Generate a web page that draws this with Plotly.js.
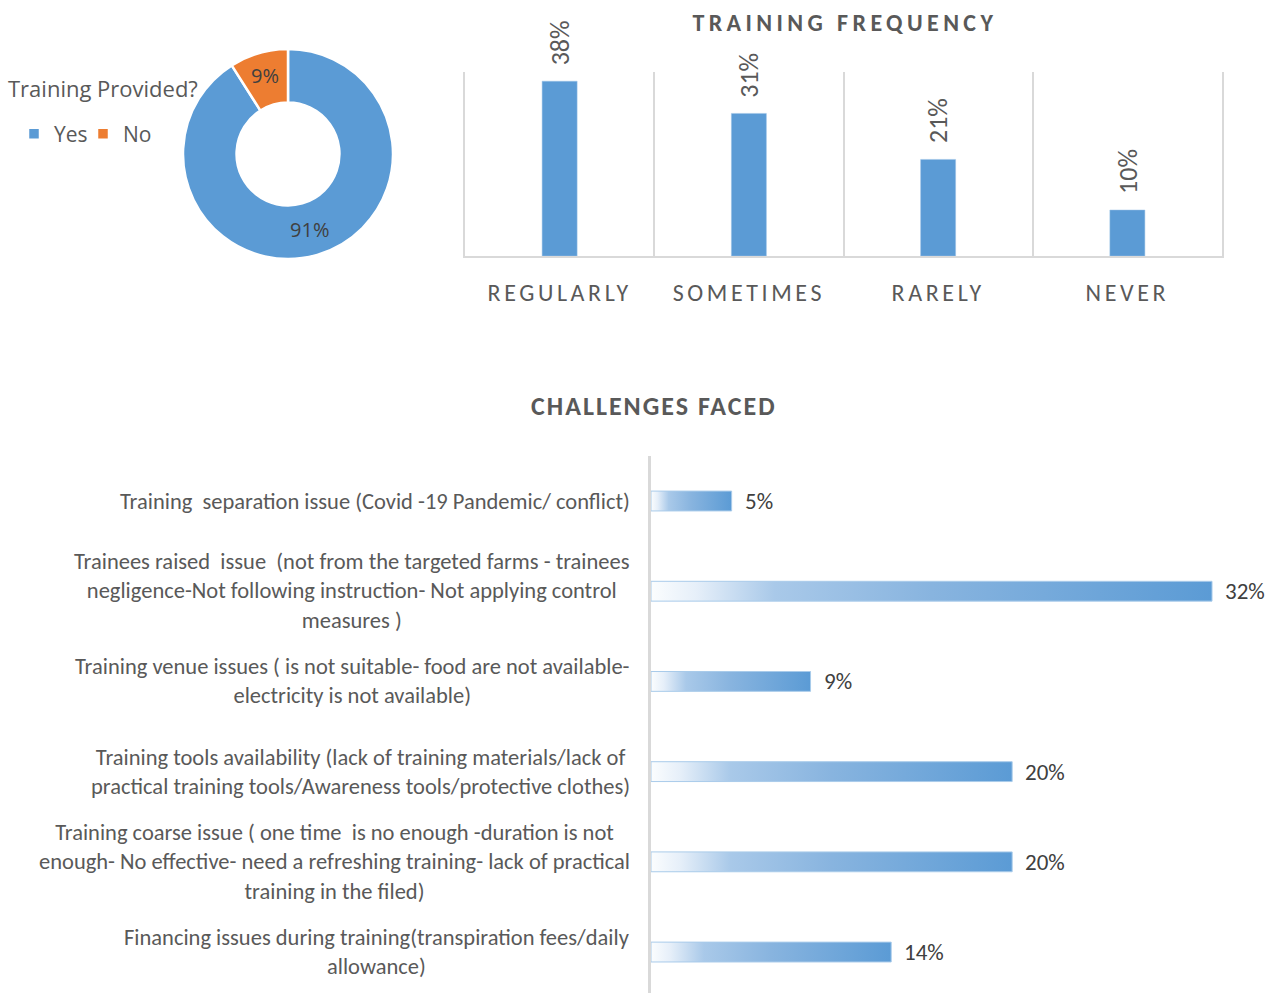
<!DOCTYPE html>
<html>
<head>
<meta charset="utf-8">
<script src="https://cdn.plot.ly/plotly-3.0.1.min.js"></script>
<style>
  html, body { margin: 0; padding: 0; background: #fff; }
  #chart { width: 1269px; height: 993px; }
  .xtick text { letter-spacing: 3.6px; }
</style>
</head>
<body>
<div id="chart"></div>
<script>
// ---- Data ----
const pieLabels = ['Yes', 'No'];
const pieValues = [91, 9];

const freqCategories = ['REGULARLY', 'SOMETIMES', 'RARELY', 'NEVER'];
const freqValues = [38, 31, 21, 10];

const challengeCategories = [
  'Training  separation issue (Covid -19 Pandemic/ conflict)',
  'Trainees raised  issue  (not from the targeted farms - trainees<br>negligence-Not following instruction- Not applying control<br>measures )',
  'Training venue issues ( is not suitable- food are not available-<br>electricity is not available)',
  'Training tools availability (lack of training materials/lack of<br>practical training tools/Awareness tools/protective clothes)',
  'Training coarse issue ( one time  is no enough -duration is not<br>enough- No effective- need a refreshing training- lack of practical<br>training in the filed)',
  'Financing issues during training(transpiration fees/daily<br>allowance)'
];
const challengeValues = [4.6, 32, 9.1, 20.6, 20.6, 13.7];
const challengeLabels = ['5%', '32%', '9%', '20%', '20%', '14%'];

// ---- Style ----
const FONT = 'Carlito, Calibri, Lato, sans-serif';
const FONT_UI = '"Open Sans", "Segoe UI", sans-serif';
const BLUE = '#5B9BD5';
const ORANGE = '#ED7D31';
const GREY_TXT = '#595959';
const DARK_TXT = '#404040';
const GRID = '#d9d9d9';

const traces = [
  {
    type: 'pie',
    labels: pieLabels,
    values: pieValues,
    hole: 0.49,
    sort: false,
    direction: 'clockwise',
    rotation: 0,
    marker: { colors: [BLUE, ORANGE], line: { color: '#ffffff', width: 2.5 } },
    textinfo: 'percent',
    textposition: 'inside',
    insidetextorientation: 'horizontal',
    textfont: { family: FONT_UI, size: 20, color: DARK_TXT },
    domain: { x: [183 / 1269, 393 / 1269], y: [1 - 259 / 993, 1 - 49 / 993] },
    showlegend: true,
    hoverinfo: 'label+percent'
  },
  {
    type: 'bar',
    x: freqCategories,
    y: freqValues,
    xaxis: 'x',
    yaxis: 'y',
    width: 0.185,
    marker: { color: BLUE, line: { color: '#9DC3E6', width: 0.5 } },
    showlegend: false,
    hoverinfo: 'x+y'
  },
  {
    type: 'bar',
    orientation: 'h',
    x: challengeValues,
    y: challengeCategories,
    xaxis: 'x2',
    yaxis: 'y2',
    width: 0.22,
    marker: { color: BLUE, line: { color: '#A9CBEA', width: 1 } },
    showlegend: false,
    hoverinfo: 'x'
  }
];

const annotations = [];
// Pie legend title
annotations.push({
  xref: 'paper', yref: 'paper',
  x: 6 / 1269, y: 1 - 88 / 993,
  xanchor: 'left', yanchor: 'middle',
  text: 'Training Provided?',
  showarrow: false,
  font: { family: FONT_UI, size: 22, color: GREY_TXT }
});
// Frequency title
annotations.push({
  xref: 'paper', yref: 'paper',
  x: 845 / 1269, y: 1 - 23 / 993,
  xanchor: 'center', yanchor: 'middle',
  text: '<b>TRAINING FREQUENCY</b>',
  showarrow: false,
  font: { family: FONT, size: 24, color: GREY_TXT }
});
// Challenges title
annotations.push({
  xref: 'paper', yref: 'paper',
  x: 654 / 1269, y: 1 - 406 / 993,
  xanchor: 'center', yanchor: 'middle',
  text: '<b>CHALLENGES FACED</b>',
  showarrow: false,
  font: { family: FONT, size: 26, color: GREY_TXT }
});
// Frequency data labels
freqCategories.forEach((c, i) => {
  annotations.push({
    xref: 'x', yref: 'y', x: c, y: freqValues[i],
    text: freqValues[i] + '%',
    textangle: -90,
    xanchor: 'center', yanchor: 'bottom', yshift: 14,
    showarrow: false,
    font: { family: FONT, size: 26, color: GREY_TXT }
  });
});
// Challenge category labels and data labels
challengeCategories.forEach((c, i) => {
  annotations.push({
    xref: 'x2 domain', yref: 'y2', x: 0, y: c,
    text: c,
    xanchor: 'right', yanchor: 'middle', xshift: -19,
    align: 'center',
    showarrow: false,
    font: { family: FONT, size: 22.5, color: GREY_TXT }
  });
  annotations.push({
    xref: 'x2', yref: 'y2', x: challengeValues[i], y: c,
    text: challengeLabels[i],
    xanchor: 'left', yanchor: 'middle', xshift: 11,
    showarrow: false,
    font: { family: FONT, size: 23, color: DARK_TXT }
  });
});

const layout = {
  width: 1269,
  height: 993,
  margin: { l: 0, r: 0, t: 0, b: 0 },
  paper_bgcolor: '#ffffff',
  plot_bgcolor: 'rgba(0,0,0,0)',
  font: { family: FONT, color: GREY_TXT },
  showlegend: true,
  legend: {
    orientation: 'h',
    x: 14 / 1269, y: 1 - 134 / 993,
    xanchor: 'left', yanchor: 'middle',
    font: { family: FONT_UI, size: 21, color: GREY_TXT },
    itemwidth: 30,
    entrywidth: 24,
    entrywidthmode: 'pixels',
    traceorder: 'normal',
    bgcolor: 'rgba(0,0,0,0)'
  },
  xaxis: {
    domain: [465 / 1269, 1222 / 1269],
    anchor: 'y',
    type: 'category',
    categoryorder: 'array',
    categoryarray: freqCategories,
    tickson: 'boundaries',
    showgrid: true,
    gridcolor: GRID,
    gridwidth: 2,
    showline: true,
    linecolor: GRID,
    linewidth: 2,
    ticks: '',
    ticklabelstandoff: 14,
    tickfont: { family: FONT, size: 24, color: GREY_TXT },
    fixedrange: true
  },
  yaxis: {
    domain: [1 - 256 / 993, 1 - 72 / 993],
    anchor: 'x',
    range: [0, 40],
    showgrid: false,
    zeroline: false,
    showticklabels: false,
    showline: true,
    mirror: true,
    linecolor: GRID,
    linewidth: 2,
    ticks: '',
    fixedrange: true
  },
  xaxis2: {
    domain: [651 / 1269, 1],
    anchor: 'y2',
    range: [0, 35.25],
    showgrid: false,
    zeroline: false,
    showticklabels: false,
    showline: false,
    ticks: '',
    fixedrange: true
  },
  yaxis2: {
    domain: [0, 1 - 456 / 993],
    anchor: 'x2',
    type: 'category',
    categoryorder: 'array',
    categoryarray: challengeCategories,
    range: [5.454, -0.499],
    showgrid: false,
    zeroline: false,
    showticklabels: false,
    showline: true,
    linecolor: GRID,
    linewidth: 3,
    ticks: '',
    fixedrange: true
  },
  bargap: 0,
  annotations: annotations
};

Plotly.newPlot('chart', traces, layout, { displayModeBar: false, staticPlot: true }).then(function (gd) {
  // gradient fill for the challenge bars
  const svgNS = 'http://www.w3.org/2000/svg';
  const defs = gd.querySelector('svg.main-svg defs');
  const grad = document.createElementNS(svgNS, 'linearGradient');
  grad.setAttribute('id', 'challengeGrad');
  grad.setAttribute('x1', '0'); grad.setAttribute('y1', '0');
  grad.setAttribute('x2', '1'); grad.setAttribute('y2', '0');
  [['0', '#fbfdfe'], ['0.08', '#e6eff9'], ['0.22', '#a9c9e9'], ['0.5', '#88b4df'], ['1', '#5b9bd5']].forEach(function (s) {
    const st = document.createElementNS(svgNS, 'stop');
    st.setAttribute('offset', s[0]);
    st.setAttribute('stop-color', s[1]);
    grad.appendChild(st);
  });
  defs.appendChild(grad);
  let paths = gd.querySelectorAll('g.subplot.x2y2 g.trace.bars path');
  if (!paths.length) {
    const tr = gd.querySelectorAll('g.trace.bars');
    if (tr.length > 1) paths = tr[1].querySelectorAll('path');
  }
  paths.forEach(function (p) { p.style.fill = 'url(#challengeGrad)'; });

  // letter spacing for titles
  gd.querySelectorAll('g.annotation text').forEach(function (t) {
    const s = t.textContent;
    if (s === 'TRAINING FREQUENCY') t.style.letterSpacing = '4.4px';
    if (s === 'CHALLENGES FACED') t.style.letterSpacing = '2px';
  });
});
</script>
</body>
</html>
